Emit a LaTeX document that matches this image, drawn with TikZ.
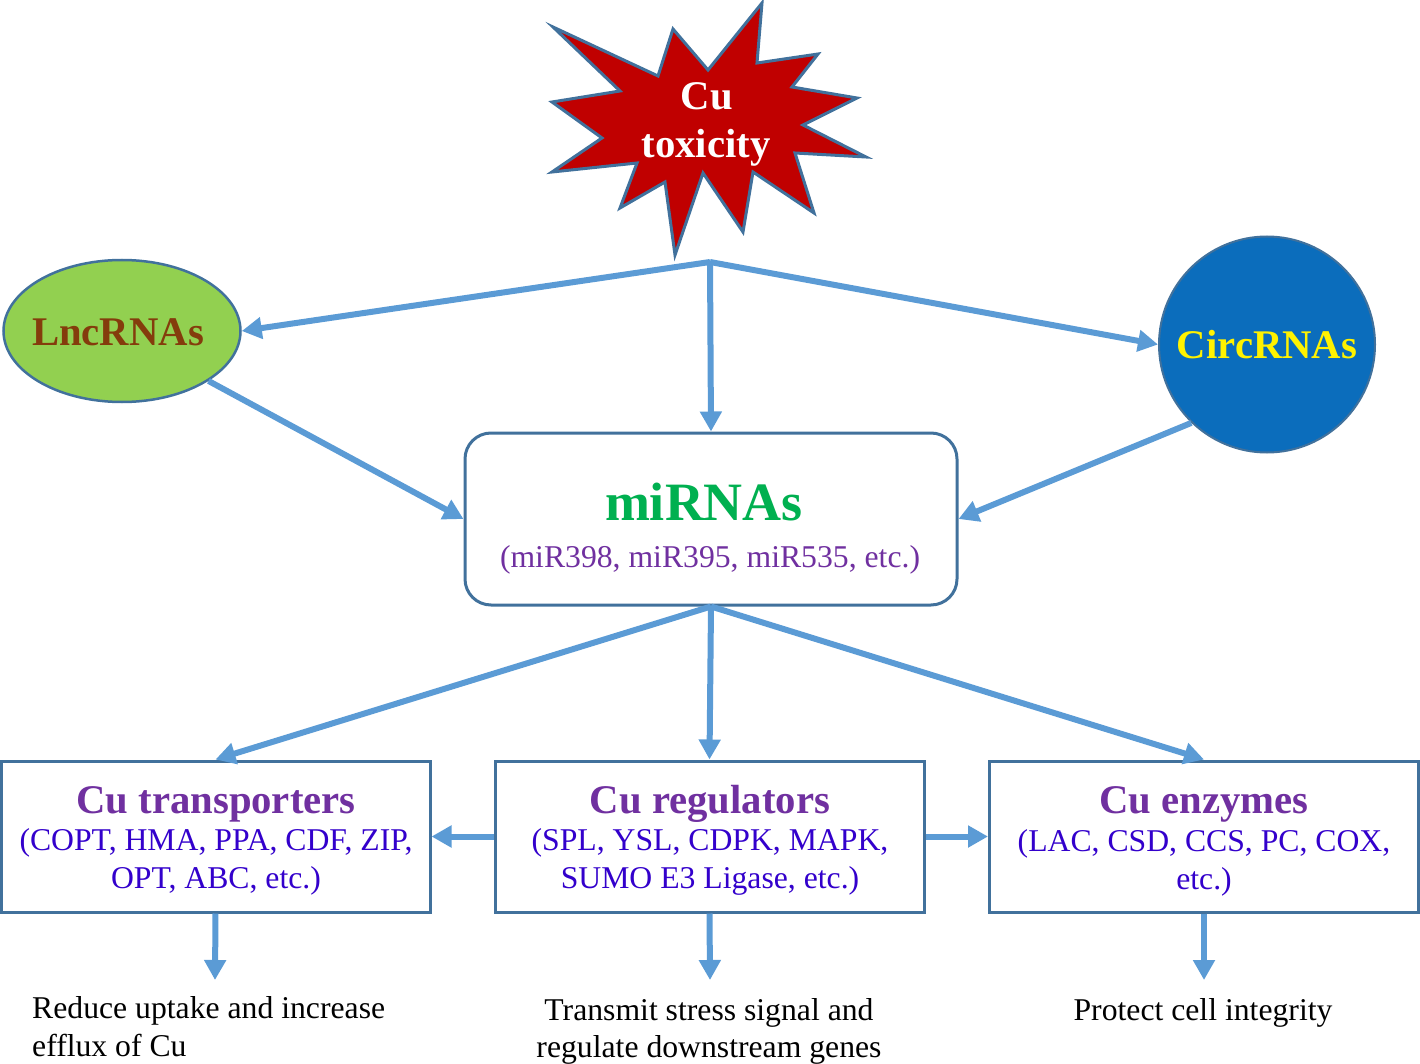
\documentclass[tikz,border=0pt]{standalone}
\usepackage{fontspec}
\setmainfont{Liberation Serif}
\usetikzlibrary{arrows.meta,shapes.geometric}
\definecolor{arrowblue}{HTML}{5B9BD5}
\definecolor{edgeblue}{HTML}{41719C}
\definecolor{starred}{HTML}{C00000}
\definecolor{lncgreen}{HTML}{92D050}
\definecolor{lncbrown}{HTML}{843C0C}
\definecolor{circblue}{HTML}{0B6DBC}
\definecolor{mirgreen}{HTML}{00B050}
\definecolor{mirpurple}{HTML}{7030A0}
\definecolor{bodyblue}{HTML}{3300CC}
\newcommand\bodyfs{\fontsize{31.7}{38}\selectfont}
\newcommand\headfs{\fontsize{40.7}{46}\selectfont\bfseries}
\begin{document}
\begin{tikzpicture}[x=1pt,y=-1pt,
  arr/.style={draw=arrowblue, line width=6pt, -{Triangle[length=20pt,width=21pt]}},
  bbox/.style={draw=edgeblue, line width=3pt, fill=white, minimum width=429pt, minimum height=151pt, inner sep=0pt},
  heading/.style={anchor=base, text=mirpurple, font=\headfs, inner sep=0pt},
  body/.style={anchor=base, text=bodyblue, font=\bodyfs, inner sep=0pt},
  plain/.style={anchor=base, text=black, font=\bodyfs, inner sep=0pt}]
\useasboundingbox (0,0) rectangle (1420,1064);
% star
\draw[fill=starred, draw=edgeblue, line width=3pt, line join=miter]
  (553,27) -- (658,76) -- (673,29) -- (708,70) -- (762,3) -- (757,63) -- (818,54) -- (792,87)
  -- (857,98) -- (803,125) -- (866,157) -- (795,153) -- (814,213) -- (753,172) -- (743,232)
  -- (703,173) -- (675,255) -- (665,182) -- (620,208) -- (637,163) -- (552,172) -- (602,138)
  -- (552,102) -- (620,91) -- cycle;
\node[anchor=base, text=white, font=\headfs, inner sep=0pt] (cu) at (707,110) {Cu};
\node[anchor=base, text=white, font=\headfs, inner sep=0pt] (tox) at (706,158) {toxicity};
\coordinate (toxb) at (710,262);
% lncRNAs
\node[ellipse, draw=edgeblue, fill=lncgreen, line width=2.5pt, minimum width=237pt, minimum height=142pt, inner sep=0pt] (lnc) at (122,331) {};
\node[anchor=base, text=lncbrown, font=\headfs, inner sep=0pt] (lnct) at (118,345) {LncRNAs};
% circRNAs
\node[circle, draw=edgeblue, fill=circblue, line width=2pt, minimum size=216pt, inner sep=0pt] (circ) at (1267,344.5) {};
\node[anchor=base, text=yellow, font=\headfs, inner sep=0pt] (circt) at (1267,358) {CircRNAs};
% miRNAs
\node[draw=edgeblue, line width=3pt, rounded corners=26pt, fill=white, minimum width=492pt, minimum height=172pt, inner sep=0pt] (mir) at (711,519) {};
\node[anchor=base, text=mirgreen, font=\fontsize{54}{60}\selectfont\bfseries, inner sep=0pt] (mirt) at (704,520) {miRNAs};
\node[anchor=base, text=mirpurple, font=\bodyfs, inner sep=0pt] (mirs) at (710,567) {(miR398, miR395, miR535, etc.)};
% bottom boxes
\node[bbox] (tbox) at (215.5,836.5) {};
\node[bbox] (rbox) at (709.5,836.5) {};
\node[bbox] (ebox) at (1204,836.5) {};
\node[heading] (tt) at (216,813) {Cu transporters};
\node[body] (tb1) at (216,850) {(COPT, HMA, PPA, CDF, ZIP,};
\node[body] (tb2) at (216,888) {OPT, ABC, etc.)};
\node[heading] (rt) at (710,813) {Cu regulators};
\node[body] (rb1) at (710,850) {(SPL, YSL, CDPK, MAPK,};
\node[body] (rb2) at (710,888) {SUMO E3 Ligase, etc.)};
\node[heading] (et) at (1204,813) {Cu enzymes};
\node[body] (eb1) at (1204,851) {(LAC, CSD, CCS, PC, COX,};
\node[body] (eb2) at (1204,889) {etc.)};
% outcome texts
\node[plain, anchor=base west] (o1a) at (32,1018) {Reduce uptake and increase};
\node[plain, anchor=base west] (o1b) at (32,1056) {efflux of Cu};
\node[plain] (o2a) at (709,1020) {Transmit stress signal and};
\node[plain] (o2b) at (709,1057) {regulate downstream genes};
\node[plain] (o3) at (1203,1020) {Protect cell integrity};
\coordinate (d1) at (215,980);
\coordinate (d2) at (710,980);
\coordinate (d3) at (1204,980);
% arrows
\draw[arr] (toxb) -- (lnc.east);
\draw[arr] (toxb) -- (mir.north);
\draw[arr] (toxb) -- (circ.west);
\draw[arr] (lnc.-30.6) -- (mir.west);
\draw[arr] (circ.-134.4) -- (mir.east);
\draw[arr] (mir.south) -- (tbox.north);
\draw[arr] (mir.south) -- (rbox.north);
\draw[arr] (mir.south) -- (ebox.north);
\draw[arr] (rbox.west) -- (tbox.east);
\draw[arr] (rbox.east) -- (ebox.west);
\draw[arr] (tbox.south) -- (d1);
\draw[arr] (rbox.south) -- (d2);
\draw[arr] (ebox.south) -- (d3);
\end{tikzpicture}
\end{document}
